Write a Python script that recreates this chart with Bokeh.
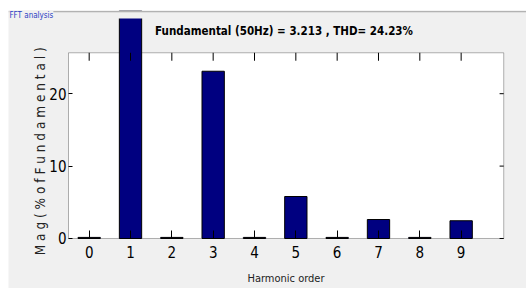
from bokeh.plotting import figure
from bokeh.models import Range1d, BoxAnnotation, Span, Label, FixedTicker
from bokeh.embed import file_html
from bokeh.resources import INLINE

# ---- data ----
harmonics = [0, 1, 2, 3, 4, 5, 6, 7, 8, 9]
magnitude = [0.15, 100.0, 0.15, 23.1, 0.15, 5.8, 0.15, 2.62, 0.15, 2.45]
x_ticks = [0, 1, 2, 3, 4, 5, 6, 7, 8, 9]
y_ticks = [0, 10, 20]
title_text = "Fundamental (50Hz) = 3.213 , THD= 24.23%"
panel_title = "FFT analysis"
x_label = "Harmonic order"
y_label = "M a g  ( %  o f  F u n d a m e n t a l )"

# axes limits (MATLAB-like box)
X_LIM = (-0.5, 10.03)
Y_LIM = (0, 25.65)

GRAY = "#f0f0f0"
FONT = "'DejaVu Sans Condensed', 'Liberation Sans', sans-serif"

p = figure(width=518, height=278, margin=(10, 0, 0, 8),
           output_backend="svg", toolbar_location=None,
           x_range=Range1d(-1.952, 10.581), y_range=Range1d(-6.906, 31.49),
           min_border_left=0, min_border_right=0, min_border_top=0,
           min_border_bottom=0,
           background_fill_color=GRAY, border_fill_color=GRAY,
           outline_line_color=None)
p.grid.visible = False

# white axes box
box = BoxAnnotation(left=X_LIM[0], right=X_LIM[1], bottom=Y_LIM[0], top=Y_LIM[1],
                    fill_color="white", fill_alpha=1.0, line_color="black",
                    line_width=1, level="underlay")
p.add_layout(box)

# bars
p.vbar(x=harmonics, top=magnitude, width=0.54, fill_color="#000080",
       line_color="black", line_width=1)

# ticks on top and right of the box
p.segment(x0=x_ticks, y0=[Y_LIM[1]] * len(x_ticks), x1=x_ticks,
          y1=[Y_LIM[1] - 1.1] * len(x_ticks), line_color="black", line_width=1)
p.segment(x0=[X_LIM[1]] * len(y_ticks), y0=y_ticks, x1=[X_LIM[1] - 0.1] * len(y_ticks),
          y1=y_ticks, line_color="black", line_width=1)

# panel area above the plot (bars are clipped by the panel)
cover = BoxAnnotation(bottom=30.39, top=40.0, fill_color=GRAY, fill_alpha=1.0,
                      line_color=None)
p.add_layout(cover)
p.add_layout(Span(location=31.32, dimension="width", line_color="#a0a0a0",
                  line_width=1))

p.add_layout(Label(x=-1.93, y=31.45, text=panel_title, text_font=FONT,
                   text_font_size="8px", text_color="#2b3fc4",
                   text_baseline="top", text_align="left",
                   background_fill_color=GRAY))

p.add_layout(Label(x=4.714, y=28.59, text=title_text, text_font=FONT,
                   text_font_size="11.5px", text_font_style="bold",
                   text_color="black", text_baseline="middle", text_align="center"))

# axes, placed at the box edges
xa = p.xaxis[0]
xa.fixed_location = Y_LIM[0]
xa.ticker = FixedTicker(ticks=x_ticks)
xa.bounds = X_LIM
xa.axis_line_color = None
xa.major_tick_in = 8
xa.major_tick_out = 0
xa.minor_tick_line_color = None
xa.major_tick_line_color = "black"
xa.major_label_text_font = FONT
xa.major_label_text_font_size = "15px"
xa.major_label_text_color = "black"
xa.major_label_standoff = 8
xa.axis_label = x_label
xa.axis_label_text_font = FONT
xa.axis_label_text_font_size = "11px"
xa.axis_label_text_font_style = "normal"
xa.axis_label_text_color = "#222222"
xa.axis_label_standoff = 10

ya = p.yaxis[0]
ya.fixed_location = X_LIM[0]
ya.ticker = FixedTicker(ticks=y_ticks)
ya.bounds = Y_LIM
ya.axis_line_color = None
ya.major_tick_in = 4
ya.major_tick_out = 0
ya.minor_tick_line_color = None
ya.major_tick_line_color = "black"
ya.major_label_text_font = FONT
ya.major_label_text_font_size = "15px"
ya.major_label_text_color = "black"
ya.major_label_standoff = 2
ya.axis_label = y_label
ya.axis_label_text_font = FONT
ya.axis_label_text_font_size = "13.5px"
ya.axis_label_text_font_style = "normal"
ya.axis_label_text_color = "#222222"
ya.axis_label_standoff = -2

open("out.html", "w").write(file_html(p, INLINE))
